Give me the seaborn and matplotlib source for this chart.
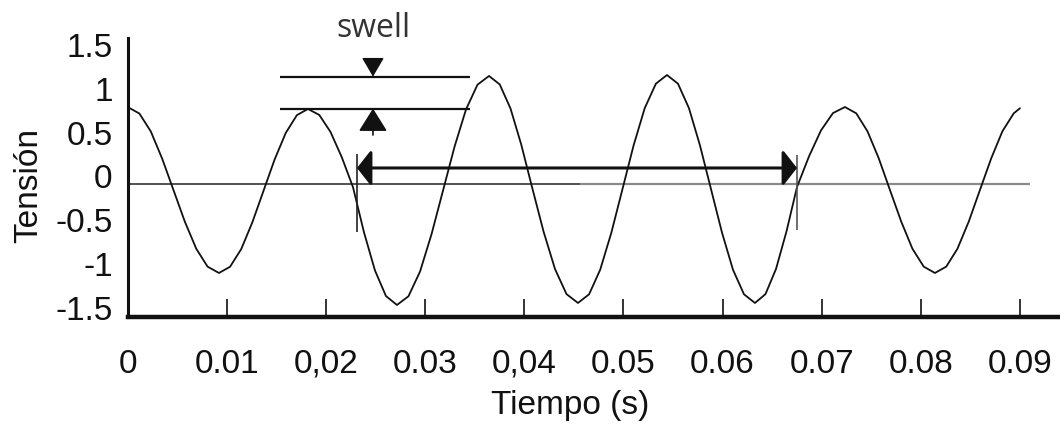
import matplotlib
matplotlib.use("Agg")
import matplotlib.pyplot as plt
import seaborn as sns

# ---- data ----
time_s = [
    0.00000, 0.00115, 0.00230, 0.00344, 0.00459, 0.00574, 0.00689, 0.00803, 0.00918,
    0.01030, 0.01143, 0.01255, 0.01367, 0.01479, 0.01592, 0.01704, 0.01816,
    0.01930, 0.02043, 0.02157, 0.02270, 0.02381, 0.02492, 0.02603, 0.02714,
    0.02830, 0.02947, 0.03063, 0.03179, 0.03295, 0.03411, 0.03527, 0.03643,
    0.03751, 0.03860, 0.03968, 0.04077, 0.04193, 0.04309, 0.04425, 0.04541,
    0.04653, 0.04765, 0.04878, 0.04990, 0.05102, 0.05214, 0.05327, 0.05439,
    0.05550, 0.05661, 0.05772, 0.05883, 0.05994, 0.06105, 0.06216, 0.06327,
    0.06433, 0.06539, 0.06645, 0.06751, 0.06872, 0.06993, 0.07114, 0.07235,
    0.07349, 0.07462, 0.07576, 0.07689, 0.07803, 0.07916, 0.08030, 0.08143,
    0.08257, 0.08370, 0.08484, 0.08597, 0.08711, 0.08824, 0.08938, 0.09001,
]
tension = [
    0.790, 0.718, 0.514, 0.206, -0.155, -0.516, -0.824, -1.028, -1.100,
    -1.029, -0.827, -0.522, -0.165, 0.192, 0.497, 0.699, 0.770,
    0.702, 0.509, 0.221, -0.120, -0.635, -1.071, -1.363, -1.465,
    -1.366, -1.084, -0.658, -0.160, 0.339, 0.765, 1.047, 1.146,
    1.050, 0.775, 0.365, -0.120, -0.626, -1.055, -1.341, -1.442,
    -1.343, -1.063, -0.639, -0.143, 0.354, 0.778, 1.058, 1.157,
    1.058, 0.778, 0.354, -0.143, -0.639, -1.063, -1.343, -1.442,
    -1.341, -1.055, -0.626, -0.120, 0.229, 0.525, 0.723, 0.792,
    0.720, 0.516, 0.207, -0.154, -0.515, -0.824, -1.028, -1.100,
    -1.028, -0.824, -0.515, -0.154, 0.207, 0.516, 0.720, 0.778,
]
xtick_values = [0.00, 0.01, 0.02, 0.03, 0.04, 0.05, 0.06, 0.07, 0.08, 0.09]
xtick_labels = ["0", "0.01", "0,02", "0.03", "0,04", "0.05", "0.06", "0.07", "0.08", "0.09"]
ytick_values = [-1.5, -1.0, -0.5, 0.0, 0.5, 1.0, 1.5]
ytick_labels = ["-1.5", "-1", "-0.5", "0", "0.5", "1", "1.5"]
baseline_level = -0.089          # drawn horizontal reference line
normal_peak = 0.775              # lower swell marker line
swell_peak = 1.138               # upper swell marker line
swell_start = 0.02311            # start of swell interval
swell_end = 0.06751              # end of swell interval
swell_arrow_level = 0.097

# ---- style ----
sns.set_style("white")
plt.rcParams["font.family"] = ["Liberation Sans", "DejaVu Sans"]

fig = plt.figure(figsize=(10.6, 4.26), dpi=100)
ax = fig.add_axes([128 / 1060, 1 - 317 / 426, (1060 - 128) / 1060, (317 - 38) / 426])

sns.lineplot(x=time_s, y=tension, ax=ax, color="#111111", lw=1.3,
             sort=False, estimator=None)

# reference (zero) line: dark on the left part, grey on the right part
ax.hlines(baseline_level, 0, 0.04561, color="#222222", lw=1.1, zorder=1)
ax.hlines(baseline_level, 0.04561, 0.09102, color="#8a8a8a", lw=1.6, zorder=1)

# swell level lines
ax.hlines([swell_peak, normal_peak], 0.0153, 0.0345, color="#111111", lw=1.6)
xm = 0.02472
ax.annotate("", xy=(xm, swell_peak), xytext=(xm, 1.328),
            arrowprops=dict(arrowstyle="-|>,head_length=0.6,head_width=0.35",
                            mutation_scale=20, color="#111111", lw=1,
                            shrinkA=0, shrinkB=0))
ax.annotate("", xy=(xm, normal_peak), xytext=(xm, 0.473),
            arrowprops=dict(arrowstyle="-|>,head_length=0.72,head_width=0.45",
                            mutation_scale=20, color="#111111", lw=1.2,
                            shrinkA=0, shrinkB=0))
ax.text(xm, 1.591, "swell", ha="center", va="baseline", fontsize=23,
        family=["Open Sans", "DejaVu Sans"], color="#333333", clip_on=False)

# duration double arrow with end markers
ax.annotate("", xy=(swell_start, swell_arrow_level), xytext=(swell_end, swell_arrow_level),
            arrowprops=dict(arrowstyle="<|-|>,head_length=0.43,head_width=0.55",
                            mutation_scale=20, color="#111111", lw=2.2,
                            shrinkA=0, shrinkB=0))
ax.vlines(swell_start, -0.633, 0.256, color="#222222", lw=1.2)
ax.vlines(swell_end, -0.610, 0.245, color="#555555", lw=1.2)

# axes
ax.set_xlim(0, 0.09405)
ax.set_ylim(-1.602, 1.579)
for s in ["top", "right"]:
    ax.spines[s].set_visible(False)
ax.spines["left"].set_linewidth(2.2)
ax.spines["left"].set_color("#111111")
ax.spines["bottom"].set_linewidth(3.2)
ax.spines["bottom"].set_color("#111111")

ax.set_xticks(xtick_values, xtick_labels)
ax.set_yticks(ytick_values, ytick_labels)
ax.tick_params(axis="x", direction="in", length=13, width=1.2, color="#111111",
               pad=23, labelsize=24, labelcolor="#111111", bottom=True)
ax.tick_params(axis="y", length=0, pad=11, labelsize=24, labelcolor="#111111")

ax.set_xlabel("Tiempo (s)", fontsize=24, color="#111111")
ax.xaxis.set_label_coords(0.474, -0.262)
ax.set_ylabel("Tensión", fontsize=24, color="#111111")
ax.yaxis.set_label_coords(-0.090, 0.473)
ax.grid(False)

fig.savefig("out.png", dpi=100, facecolor="white")
